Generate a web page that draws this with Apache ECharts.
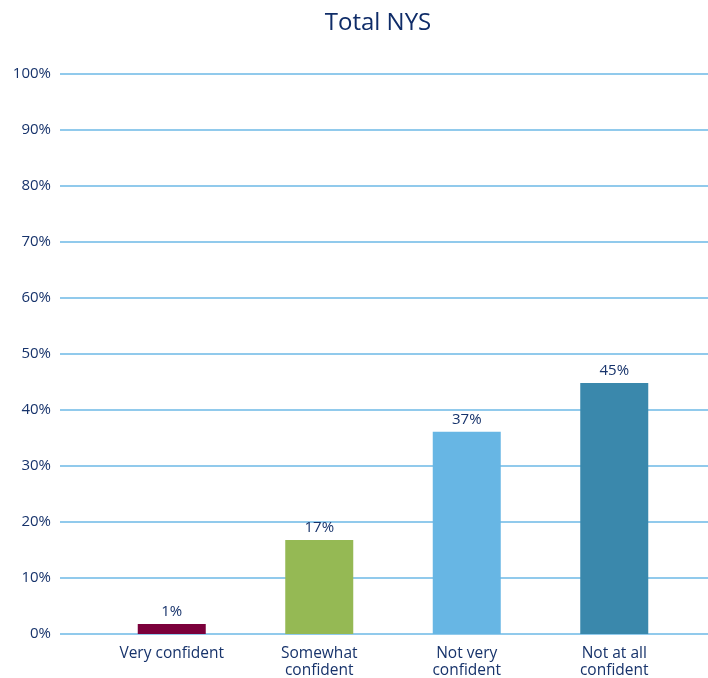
<!DOCTYPE html>
<html>
<head>
<meta charset="utf-8">
<script src="https://cdn.jsdelivr.net/npm/echarts@6/dist/echarts.min.js"></script>
<style>
  html, body { margin: 0; padding: 0; background: #fff; }
  #chart { width: 708px; height: 678px; }
</style>
</head>
<body>
<div id="chart"></div>
<script>
// 数据
const categories = ['Very confident', 'Somewhat\nconfident', 'Not very\nconfident', 'Not at all\nconfident'];
const values = [1.8, 16.8, 36.1, 44.8];
const valueLabels = ['1%', '17%', '37%', '45%'];
const barColors = ['#7b003b', '#95b954', '#67b6e4', '#3a88ac'];
const yTicks = [0, 10, 20, 30, 40, 50, 60, 70, 80, 90, 100];

const textColor = '#17336b';
const lineColor = '#6cb9e6';
const font = 'Open Sans';

const chartInstance = echarts.init(document.getElementById('chart'));
const option = {
  animation: false,
  title: {
    text: 'Total NYS',
    left: 373,
    textAlign: 'center',
    top: 6,
    textStyle: { color: '#0f2c68', fontSize: 24, fontWeight: 'normal', fontFamily: font }
  },
  grid: [
    { left: 60, right: 0, top: 74, bottom: 44, outerBoundsMode: 'none' },
    { left: 98, right: 20, top: 74, bottom: 44, outerBoundsMode: 'none' }
  ],
  xAxis: [
    { gridIndex: 0, type: 'category', data: categories, show: false },
    {
      gridIndex: 1,
      type: 'category',
      data: categories,
      axisLine: { show: false },
      axisTick: { show: false },
      axisLabel: {
        color: textColor, fontSize: 15.5, fontFamily: font,
        margin: 11, lineHeight: 17, interval: 0
      }
    }
  ],
  yAxis: [
    {
      gridIndex: 0,
      type: 'value',
      min: 0, max: 100, interval: 10,
      axisLine: { show: false },
      axisTick: { show: false },
      axisLabel: {
        color: textColor, fontSize: 15, fontFamily: font, margin: 9,
        formatter: v => yTicks.includes(v) ? v + '%' : ''
      },
      splitLine: { lineStyle: { color: lineColor, width: 1.5 } }
    },
    {
      gridIndex: 1,
      type: 'value',
      min: 0, max: 100, interval: 10,
      show: false
    }
  ],
  series: [
    {
      type: 'bar',
      xAxisIndex: 1,
      yAxisIndex: 1,
      barWidth: 68,
      data: values.map((v, i) => ({ value: v, itemStyle: { color: barColors[i] } })),
      label: {
        show: true,
        position: 'top',
        distance: 5,
        color: textColor,
        fontSize: 15,
        fontFamily: font,
        formatter: p => valueLabels[p.dataIndex]
      }
    }
  ]
};
chartInstance.setOption(option);
</script>
</body>
</html>
